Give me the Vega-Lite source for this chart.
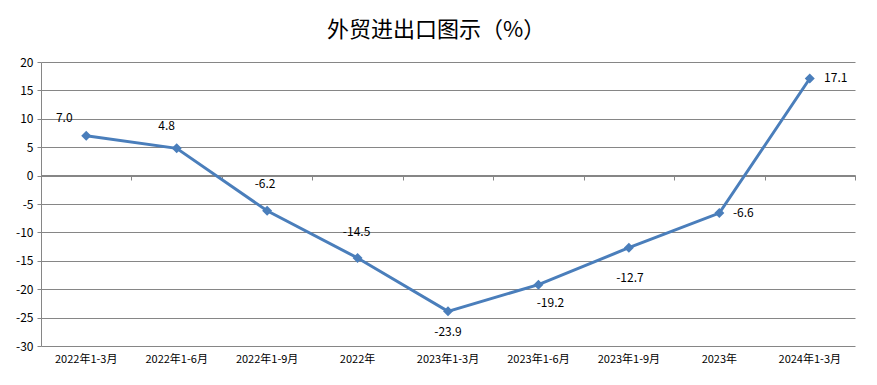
{
  "$schema": "https://vega.github.io/schema/vega-lite/v6.json",
  "width": 814,
  "height": 284,
  "autosize": "none",
  "padding": {"left": 41, "top": 62, "right": 22, "bottom": 39},
  "background": "white",
  "title": {
    "text": "外贸进出口图示（%）",
    "font": "Noto Sans CJK SC",
    "fontSize": 22,
    "fontWeight": "normal",
    "color": "#000000",
    "anchor": "middle",
    "frame": "group",
    "dx": -12,
    "offset": 14
  },
  "config": {
    "view": {"stroke": null},
    "font": "Noto Sans CJK SC",
    "locale": {
      "number": {"decimal": ".", "thousands": ",", "grouping": [3], "currency": ["", ""], "minus": "-"}
    }
  },
  "data": {
    "values": [
      {"period": "2022年1-3月", "value": 7.0},
      {"period": "2022年1-6月", "value": 4.8},
      {"period": "2022年1-9月", "value": -6.2},
      {"period": "2022年", "value": -14.5},
      {"period": "2023年1-3月", "value": -23.9},
      {"period": "2023年1-6月", "value": -19.2},
      {"period": "2023年1-9月", "value": -12.7},
      {"period": "2023年", "value": -6.6},
      {"period": "2024年1-3月", "value": 17.1}
    ]
  },
  "encoding": {
    "y": {
      "field": "value",
      "type": "quantitative",
      "scale": {"domain": [-30, 20], "nice": false, "zero": false},
      "axis": {
        "title": null,
        "values": [-30, -25, -20, -15, -10, -5, 0, 5, 10, 15, 20],
        "grid": true,
        "gridColor": "#868686",
        "gridOpacity": 1,
        "domainColor": "#868686",
        "tickColor": "#868686",
        "tickSize": 4,
        "labelFontSize": 12,
        "labelColor": "#000000",
        "labelPadding": 4,
        "labelFont": "Noto Sans CJK SC"
      }
    }
  },
  "layer": [
    {
      "mark": {"type": "line", "color": "#4a7ebb", "strokeWidth": 3},
      "encoding": {
        "x": {
          "field": "period",
          "type": "ordinal",
          "sort": null,
          "bandPosition": 0.5,
          "scale": {"type": "band", "paddingInner": 0, "paddingOuter": 0},
          "axis": {
            "title": null,
            "orient": "bottom",
            "domain": false,
            "ticks": false,
            "grid": false,
            "labelAngle": 0,
            "labelFontSize": 11,
            "labelColor": "#000000",
            "labelPadding": 7,
            "labelBaseline": "top"
          }
        }
      }
    },
    {
      "mark": {"type": "point", "shape": "diamond", "filled": true, "color": "#4a7ebb", "size": 100, "opacity": 1},
      "encoding": {
        "x": {
          "field": "period",
          "type": "ordinal",
          "sort": null,
          "bandPosition": 0.5,
          "scale": {"type": "band", "paddingInner": 0, "paddingOuter": 0},
          "axis": {
            "title": null,
            "orient": "top",
            "offset": -113,
            "labels": false,
            "domain": true,
            "domainColor": "#868686",
            "ticks": true,
            "tickColor": "#868686",
            "tickSize": -5,
            "tickBand": "extent",
            "grid": false
          }
        }
      }
    },
    {"transform": [{"filter": "datum.period == '2022年1-3月'"}], "mark": {"type": "text", "dx": -22, "dy": -18, "fontSize": 12, "color": "#000000"}, "encoding": {"x": {"field": "period", "type": "ordinal", "sort": null, "bandPosition": 0.5, "axis": null}, "text": {"field": "value", "type": "quantitative", "format": ".1f"}}},
    {"transform": [{"filter": "datum.period == '2022年1-6月'"}], "mark": {"type": "text", "dx": -10, "dy": -22, "fontSize": 12, "color": "#000000"}, "encoding": {"x": {"field": "period", "type": "ordinal", "sort": null, "bandPosition": 0.5, "axis": null}, "text": {"field": "value", "type": "quantitative", "format": ".1f"}}},
    {"transform": [{"filter": "datum.period == '2022年1-9月'"}], "mark": {"type": "text", "dx": -2, "dy": -27, "fontSize": 12, "color": "#000000"}, "encoding": {"x": {"field": "period", "type": "ordinal", "sort": null, "bandPosition": 0.5, "axis": null}, "text": {"field": "value", "type": "quantitative", "format": ".1f"}}},
    {"transform": [{"filter": "datum.period == '2022年'"}], "mark": {"type": "text", "dx": -1, "dy": -26, "fontSize": 12, "color": "#000000"}, "encoding": {"x": {"field": "period", "type": "ordinal", "sort": null, "bandPosition": 0.5, "axis": null}, "text": {"field": "value", "type": "quantitative", "format": ".1f"}}},
    {"transform": [{"filter": "datum.period == '2023年1-3月'"}], "mark": {"type": "text", "dx": 0, "dy": 21, "fontSize": 12, "color": "#000000"}, "encoding": {"x": {"field": "period", "type": "ordinal", "sort": null, "bandPosition": 0.5, "axis": null}, "text": {"field": "value", "type": "quantitative", "format": ".1f"}}},
    {"transform": [{"filter": "datum.period == '2023年1-6月'"}], "mark": {"type": "text", "dx": 12, "dy": 18, "fontSize": 12, "color": "#000000"}, "encoding": {"x": {"field": "period", "type": "ordinal", "sort": null, "bandPosition": 0.5, "axis": null}, "text": {"field": "value", "type": "quantitative", "format": ".1f"}}},
    {"transform": [{"filter": "datum.period == '2023年1-9月'"}], "mark": {"type": "text", "dx": 1, "dy": 30, "fontSize": 12, "color": "#000000"}, "encoding": {"x": {"field": "period", "type": "ordinal", "sort": null, "bandPosition": 0.5, "axis": null}, "text": {"field": "value", "type": "quantitative", "format": ".1f"}}},
    {"transform": [{"filter": "datum.period == '2023年'"}], "mark": {"type": "text", "dx": 24, "dy": 0, "fontSize": 12, "color": "#000000"}, "encoding": {"x": {"field": "period", "type": "ordinal", "sort": null, "bandPosition": 0.5, "axis": null}, "text": {"field": "value", "type": "quantitative", "format": ".1f"}}},
    {"transform": [{"filter": "datum.period == '2024年1-3月'"}], "mark": {"type": "text", "dx": 26, "dy": 0, "fontSize": 12, "color": "#000000"}, "encoding": {"x": {"field": "period", "type": "ordinal", "sort": null, "bandPosition": 0.5, "axis": null}, "text": {"field": "value", "type": "quantitative", "format": ".1f"}}}
  ],
  "resolve": {"axis": {"x": "independent"}}
}
